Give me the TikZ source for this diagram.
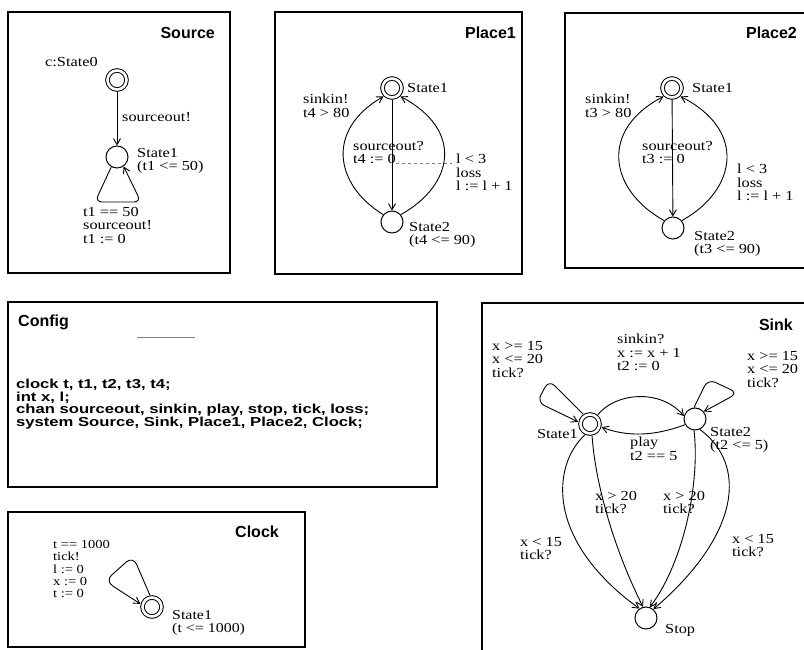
\documentclass[tikz,border=0pt]{standalone}
\usepackage{fontspec}
\setmainfont{Liberation Serif}[FakeStretch=1.18]
\newfontfamily\ttlfont{Liberation Sans Bold}
\newfontfamily\cfgfont{Liberation Sans Bold}[FakeStretch=1.28]
\usetikzlibrary{arrows.meta}
\begin{document}
\begin{tikzpicture}[x=1pt,y=-1pt,
  panel/.style={line width=2.2pt},
  ttl/.style={font=\ttlfont\fontsize{16}{18}\selectfont, inner sep=0pt, anchor=east},
  lbl/.style={font=\fontsize{13.8}{13.5}\selectfont, inner sep=0pt, align=left, anchor=north west},
  slbl/.style={lbl, anchor=west},
  st/.style={circle, draw, line width=1pt, minimum size=22pt, inner sep=0pt},
  ist/.style={circle, draw, line width=1pt, double, double distance=2.6pt, minimum size=19pt, inner sep=0pt, outer sep=2.5pt},
  tr/.style={line width=0.9pt, -{Straight Barb[length=6pt,width=7pt]}},
  faint/.style={line width=0.6pt, gray},
]
\useasboundingbox (0,0) rectangle (804,650);
\fill[white] (0,0) rectangle (804,650);
\clip (0,0) rectangle (804,650);

% ---------- Source ----------
\draw[panel] (8,12) rectangle (230,273);
\node[ttl] (srcT) at (215,33) {Source};
\node[slbl] (srcC) at (45,62) {c:State0};
\node[ist] (s0) at (117,80) {};
\node[st] (s1) at (117,157) {};
\node[slbl] (srcA) at (122,117) {sourceout!};
\node[lbl] (srcS) at (137,148) {State1\\(t1 <= 50)};
\node[lbl] (srcL) at (83,207) {t1 == 50\\sourceout!\\t1 := 0};
\draw[tr] (s0) -- (s1);
\draw[tr, rounded corners=7pt] (s1.-120) -- (95,202) -- (141,202) -- (s1.-55);

% ---------- Place1 ----------
\draw[panel] (275,12) rectangle (522,274);
\node[ttl] (p1T) at (516,33) {Place1};
\node[ist] (p1s1) at (392,88) {};
\node[st] (p1s2) at (392,222) {};
\node[slbl] (p1L1) at (407,88) {State1};
\node[lbl] (p1L2) at (409,222) {State2\\(t4 <= 90)};
\node[lbl] (p1A) at (303,94) {sinkin!\\t4 > 80};
\node[lbl] (p1B) at (353,141) {sourceout?\\t4 := 0};
\node[lbl] (p1C) at (456,154) {l < 3\\loss\\l := l + 1};
\draw[faint, dashed] (396,163) -- (452,163);
\draw[tr] (p1s1) -- (p1s2);
\draw[tr] (p1s2.140) .. controls (335,185) and (325,130) .. (p1s1.-135);
\draw[tr] (p1s2.40) .. controls (454,185) and (464,130) .. (p1s1.-45);

% ---------- Place2 ----------
\draw[panel] (812,13) -- (565,13) -- (565,268) -- (812,268);
\node[ttl] (p2T) at (797,33) {Place2};
\node[ist] (p2s1) at (672,88) {};
\node[st] (p2s2) at (673,228) {};
\node[slbl] (p2L1) at (692,88) {State1};
\node[lbl] (p2L2) at (694,231) {State2\\(t3 <= 90)};
\node[lbl] (p2A) at (585,94) {sinkin!\\t3 > 80};
\node[lbl] (p2B) at (642,141) {sourceout?\\t3 := 0};
\node[lbl] (p2C) at (737,164) {l < 3\\loss\\l := l + 1};
\draw[tr] (p2s1) -- (p2s2);
\draw[tr] (p2s2.140) .. controls (609,190) and (599,130) .. (p2s1.-135);
\draw[tr] (p2s2.40) .. controls (737,190) and (747,130) .. (p2s1.-45);

% ---------- Config ----------
\draw[panel] (8,302) rectangle (437,487);
\node[ttl, anchor=west] (cfgT) at (18,322) {Config};
\draw[faint] (137,337) -- (195,337);
\node[lbl, font=\cfgfont\fontsize{13}{10.5}\selectfont] (cfgX) at (16,379)
  {clock t, t1, t2, t3, t4;\\int x, l;\\chan sourceout, sinkin, play, stop, tick, loss;\\system Source, Sink, Place1, Place2, Clock;};

% ---------- Clock ----------
\draw[panel] (8,512) rectangle (305,647);
\node[ttl] (clkT) at (279,532) {Clock};
\node[lbl, font=\fontsize{12.3}{12.4}\selectfont] (clkL) at (53,540) {t == 1000\\tick!\\l := 0\\x := 0\\t := 0};
\node[ist] (c1) at (152,607) {};
\node[lbl, font=\fontsize{13.5}{13}\selectfont] (clkS) at (172,610) {State1\\(t <= 1000)};
\draw[tr, rounded corners=9pt] (c1.100) -- (133,556) -- (105,581) -- (c1.165);

% ---------- Sink ----------
\draw[panel] (812,303) -- (482,303) -- (482,660);
\node[ttl] (snkT) at (793,325) {Sink};
\node[ist] (ss1) at (590,424) {};
\node[st] (ss2) at (695,419) {};
\node[st] (stop) at (646,618) {};
\node[lbl, anchor=east] (snkS1) at (578,434) {State1};
\node[lbl] (snkS2) at (710,427) {State2\\(t2 <= 5)};
\node[slbl] (snkSt) at (665,630) {Stop};
\node[lbl] (snkA) at (617,334) {sinkin?\\x := x + 1\\t2 := 0};
\node[lbl] (snkB) at (492,341) {x >= 15\\x <= 20\\tick?};
\node[lbl] (snkC) at (747,351) {x >= 15\\x <= 20\\tick?};
\node[lbl] (snkD) at (630,437) {play\\t2 == 5};
\node[lbl] (snkE) at (595,491) {x > 20\\tick?};
\node[lbl] (snkF) at (663,491) {x > 20\\tick?};
\node[lbl] (snkG) at (520,537) {x < 15\\tick?};
\node[lbl] (snkH) at (732,534) {x < 15\\tick?};
\draw[tr] (ss1.50) .. controls (615,393) and (660,388) .. (ss2.165);
\draw[tr] (ss2.-150) .. controls (665,432) and (635,440) .. (ss1.-15);
\draw[tr, rounded corners=8pt] (ss1.125) -- (549,380) -- (537,402) -- (ss1.170);
\draw[tr, rounded corners=8pt] (ss2.95) -- (708,379) -- (738,393) -- (ss2.40);
\draw[tr] (ss1.-115) .. controls (552,465) and (545,540) .. (stop.125);
\draw[tr] (ss1.-80) .. controls (595,480) and (612,545) .. (stop.105);
\draw[tr] (ss2.-95) .. controls (700,480) and (685,560) .. (stop.70);
\draw[tr] (ss2.-65) .. controls (748,465) and (740,535) .. (stop.50);
\end{tikzpicture}
\end{document}
